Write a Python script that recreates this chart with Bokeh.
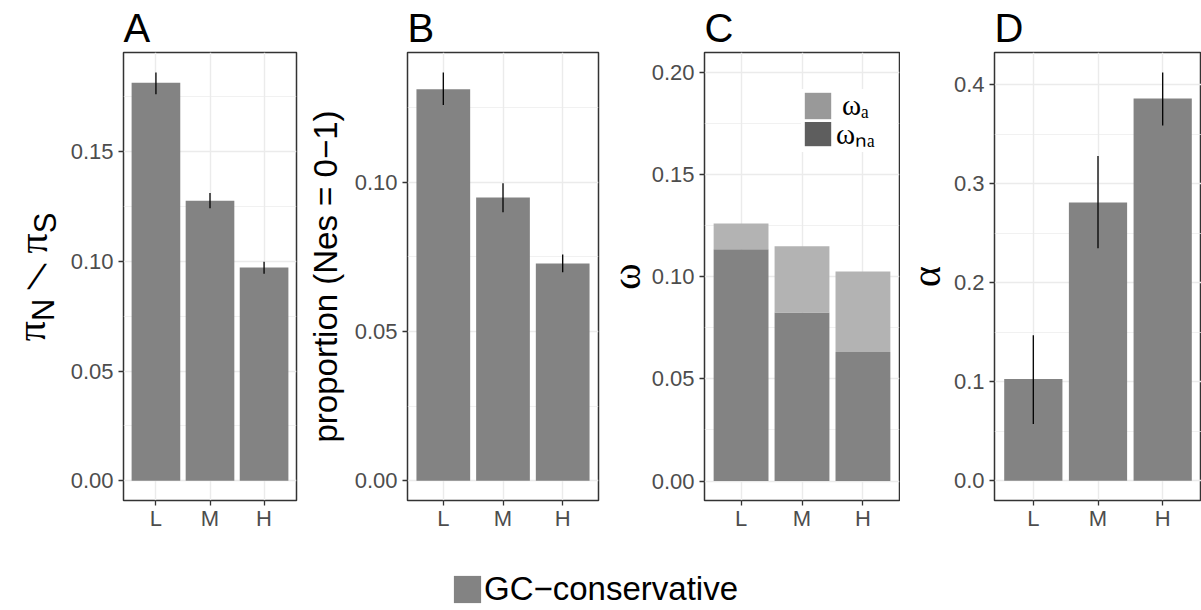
from bokeh.plotting import figure
from bokeh.models import (FactorRange, Range1d, FixedTicker, NumeralTickFormatter,
                          Legend, LegendItem, ColumnDataSource, Div)
from bokeh.layouts import row, column
from bokeh.embed import file_html
from bokeh.resources import INLINE

# ---------------- data ----------------
categories = ["L", "M", "H"]

piN_piS = [0.1814, 0.1276, 0.0972]
piN_piS_lo = [0.1762, 0.1242, 0.0944]
piN_piS_hi = [0.1861, 0.1312, 0.0998]

prop_nes01 = [0.1312, 0.0949, 0.0728]
prop_lo = [0.1259, 0.0900, 0.0699]
prop_hi = [0.1368, 0.0997, 0.0758]

omega_na = [0.1134, 0.0825, 0.0631]
omega_a = [0.0126, 0.0323, 0.0394]

alpha_vals = [0.1026, 0.2810, 0.3860]
alpha_lo = [0.0572, 0.2347, 0.3587]
alpha_hi = [0.1470, 0.3280, 0.4124]

ticks_A = [0.0, 0.05, 0.10, 0.15]
minor_A = [0.025, 0.075, 0.125, 0.175]
ticks_B = [0.0, 0.05, 0.10]
minor_B = [0.025, 0.075, 0.125]
ticks_C = [0.0, 0.05, 0.10, 0.15, 0.20]
minor_C = [0.025, 0.075, 0.125, 0.175]
ticks_D = [0.0, 0.1, 0.2, 0.3, 0.4]
minor_D = [0.05, 0.15, 0.25, 0.35]

panel_titles = ["A", "B", "C", "D"]
legend_label = "GC\u2212conservative"
omega_labels = ["\u03c9\u2090", "\u03c9\u2099\u2090"]   # omega_a, omega_na

# ---------------- style ----------------
SANS = "Liberation Sans"
SERIF = "Liberation Serif"
BAR = "#838383"
BAR_LIGHT = "#b3b3b3"
GRID = "#ebebeb"
FIG_H = 550
TOP = 52
FRAME_H = 448
BOTTOM = FIG_H - TOP - FRAME_H


def make_panel(title, left, fw, right, yr, major, minor, fmt):
    p = figure(x_range=FactorRange(*categories, range_padding=0.1, range_padding_units="absolute"),
               y_range=Range1d(*yr), width=left + fw + right, height=FIG_H,
               min_border_left=left, min_border_right=right, min_border_top=TOP,
               min_border_bottom=BOTTOM, output_backend="svg", toolbar_location=None,
               title=title)
    p.title.text_font = SANS
    p.title.text_font_size = "40px"
    p.title.text_font_style = "normal"
    p.title.text_color = "black"
    p.title.align = "left"
    p.title.offset = 0
    p.title.standoff = 5
    p.outline_line_color = "#333333"
    p.outline_line_width = 1.5
    p.outline_line_alpha = 1.0
    p.background_fill_color = "white"
    p.border_fill_color = "white"
    p.yaxis.ticker = FixedTicker(ticks=major, minor_ticks=minor)
    p.yaxis.formatter = NumeralTickFormatter(format=fmt)
    for ax in (p.xaxis[0], p.yaxis[0]):
        ax.axis_line_color = None
        ax.major_tick_line_color = "#333333"
        ax.major_tick_line_width = 1.3
        ax.major_tick_out = 5
        ax.major_tick_in = 0
        ax.minor_tick_line_color = None
        ax.major_label_text_font = SANS
        ax.major_label_text_font_size = "22px"
        ax.major_label_text_color = "#4d4d4d"
    p.yaxis.major_label_standoff = 5
    p.xaxis.major_label_standoff = 0
    p.xgrid.grid_line_color = GRID
    p.xgrid.grid_line_width = 1.4
    p.ygrid.grid_line_color = GRID
    p.ygrid.grid_line_width = 1.4
    p.ygrid.minor_grid_line_color = GRID
    p.ygrid.minor_grid_line_width = 0.7
    p.yaxis.axis_label_text_font_style = "normal"
    p.yaxis.axis_label_text_color = "black"
    return p


# ---------------- Panel A: axis title as rotated HTML text ----------------
LAB_W = 61
rot_css = ("position:absolute;left:%spx;top:%spx;transform:translate(-50%%,-50%%) rotate(-90deg);"
           "white-space:nowrap;line-height:1;font-size:40px;color:#000;"
           "font-family:'Liberation Sans',sans-serif;")
pi_css = "font-family:'Liberation Serif',serif;font-size:40px;"
sub_css = "font-family:'Liberation Sans',sans-serif;font-size:31px;position:relative;top:9px;"
slash_css = ("position:absolute;left:37px;top:276px;transform:translate(-50%,-50%) skewX(-22deg);"
             "white-space:nowrap;line-height:1;font-size:35px;color:#000;"
             "font-family:'Liberation Sans',sans-serif;")
titleA_html = (
    "<div style=\"position:relative;width:%dpx;height:%dpx;\">" % (LAB_W, FIG_H)
    + "<div style=\"%s\"><span style=\"%s\">\u03c0</span><span style=\"%s\">N</span></div>"
    % (rot_css % (31, 320), pi_css, sub_css)
    + "<div style=\"%s\">/</div>" % slash_css
    + "<div style=\"%s\"><span style=\"%s\">\u03c0</span><span style=\"%s\">S</span></div>"
    % (rot_css % (33, 233), pi_css, sub_css)
    + "</div>"
)
labA = Div(text=titleA_html, width=LAB_W, height=FIG_H, margin=(0, 0, 0, 0))

yrA = (-0.0090, 0.1952)
pA = make_panel(panel_titles[0], 123 - LAB_W, 173, 4, yrA, ticks_A, minor_A, "0.00")
pA.vbar(x=categories, top=piN_piS, width=0.9, fill_color=BAR, line_color=None)
pA.segment(x0=categories, y0=piN_piS_lo, x1=categories, y1=piN_piS_hi, line_color="black", line_width=1.3)

# ---------------- Panel B ----------------
yrB = (-0.0066, 0.1435)
pB = make_panel(panel_titles[1], 107, 191, 2, yrB, ticks_B, minor_B, "0.00")
pB.vbar(x=categories, top=prop_nes01, width=0.9, fill_color=BAR, line_color=None)
pB.segment(x0=categories, y0=prop_lo, x1=categories, y1=prop_hi, line_color="black", line_width=1.3)
pB.yaxis.axis_label = "proportion (Nes = 0\u22121)"
pB.yaxis.axis_label_text_font = SANS
pB.yaxis.axis_label_text_font_size = "33px"
pB.yaxis.axis_label_standoff = 8

# ---------------- Panel C ----------------
yrC = (-0.0095, 0.2096)
pC = make_panel(panel_titles[2], 104, 195, 1, yrC, ticks_C, minor_C, "0.00")
srcC = ColumnDataSource(dict(cat=categories, na=omega_na, a=omega_a))
pC.vbar_stack(["na", "a"], x="cat", source=srcC, width=0.9, color=[BAR, BAR_LIGHT], line_color=None)
pC.yaxis.axis_label = "\u03c9"
pC.yaxis.axis_label_text_font = SERIF
pC.yaxis.axis_label_text_font_size = "40px"
pC.yaxis.axis_label_standoff = 0
# zero-height key glyphs: invisible in the plot, they only feed the legend swatches
r_a = pC.vbar(x=categories[:1], top=[0], width=0.9, fill_color="#999999", line_color=None)
r_na = pC.vbar(x=categories[:1], top=[0], width=0.9, fill_color="#5e5e5e", line_color=None)
common = dict(glyph_width=33, glyph_height=33, padding=0, margin=0, label_height=10,
              label_text_font=SERIF, label_text_font_size="29px", label_text_color="black",
              border_line_color=None, background_fill_color="white", background_fill_alpha=1.0)
legNA = Legend(items=[LegendItem(label=omega_labels[1], renderers=[r_na])],
               location=(97, 348), label_standoff=2, label_width=61, **common)
legA = Legend(items=[LegendItem(label=omega_labels[0], renderers=[r_a])],
              location=(97, 378), label_standoff=8, label_width=55, **common)
pC.add_layout(legNA)
pC.add_layout(legA)

# ---------------- Panel D ----------------
yrD = (-0.0200, 0.4325)
pD = make_panel(panel_titles[3], 94, 207, 0, yrD, ticks_D, minor_D, "0.0")
pD.vbar(x=categories, top=alpha_vals, width=0.9, fill_color=BAR, line_color=None)
pD.segment(x0=categories, y0=alpha_lo, x1=categories, y1=alpha_hi, line_color="black", line_width=1.3)
pD.yaxis.axis_label = "\u03b1"
pD.yaxis.axis_label_text_font = SERIF
pD.yaxis.axis_label_text_font_size = "40px"
pD.yaxis.axis_label_standoff = 2

# ---------------- bottom legend ----------------
leg = figure(width=1201, height=60, x_range=Range1d(0, 1), y_range=Range1d(0, 1),
             min_border=0, x_axis_location=None, y_axis_location=None,
             output_backend="svg", toolbar_location=None)
leg.outline_line_color = None
leg.grid.visible = False
r_gc = leg.vbar(x=[0.5], top=[0], width=0.01, fill_color=BAR, line_color=None)
lg = Legend(items=[LegendItem(label=legend_label, renderers=[r_gc])], location=(450, 2),
            glyph_width=34, glyph_height=34, padding=0, margin=0, label_standoff=0,
            label_text_font=SANS, label_text_font_size="33px", label_text_color="black",
            border_line_color=None, background_fill_alpha=0)
leg.add_layout(lg)

layout = column(row(labA, pA, pB, pC, pD), leg)
open("out.html", "w").write(file_html(layout, INLINE))
